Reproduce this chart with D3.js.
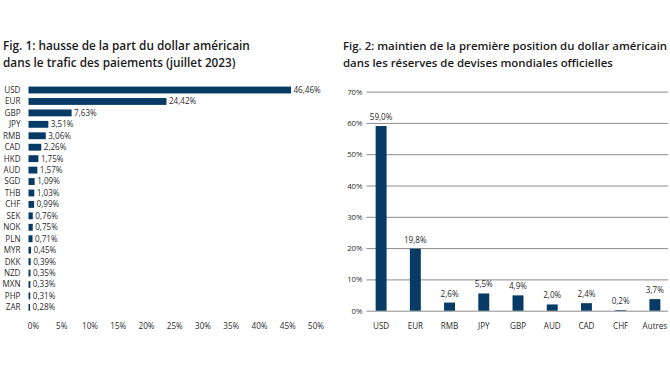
<!DOCTYPE html>
<html><head><meta charset="utf-8">
<script src="https://cdn.jsdelivr.net/npm/d3@7"></script>
<style>
html,body{margin:0;padding:0;background:#fff;}
svg{display:block;font-family:"Open Sans", Lato, sans-serif;}
</style></head>
<body>
<svg id="chart" width="670" height="377"></svg>
<script>
// Fig. 1 data
const payCurrencies = ["USD","EUR","GBP","JPY","RMB","CAD","HKD","AUD","SGD","THB","CHF","SEK","NOK","PLN","MYR","DKK","NZD","MXN","PHP","ZAR"];
const payShares = [46.46,24.42,7.63,3.51,3.06,2.26,1.75,1.57,1.09,1.03,0.99,0.76,0.75,0.71,0.45,0.39,0.35,0.33,0.31,0.28];
const payTicks = [0,5,10,15,20,25,30,35,40,45,50];
// Fig. 2 data
const resCurrencies = ["USD","EUR","RMB","JPY","GBP","AUD","CAD","CHF","Autres"];
const resShares = [59.0,19.8,2.6,5.5,4.9,2.0,2.4,0.2,3.7];
const resTicks = [0,10,20,30,40,50,60,70];

const navy = "#073b66";
const textCol = "#2b2b2b";
const font = "'Open Sans', sans-serif";
const lbl = 8.1;
const fmt = (v, d) => v.toFixed(d).replace(".", ",") + "%";

const svg = d3.select("#chart");

function title(g, x, size, lines) {
  lines.forEach((t, i) => g.append("text").attr("x", x).attr("y", 50 + i * 17)
    .attr("font-size", size).attr("font-weight", 600).attr("fill", "#1a1a1a")
    .attr("font-family", font).text(t));
}

// ---------- Fig 1 ----------
const g1 = svg.append("g");
title(g1, 3, 11.8, ["Fig. 1: hausse de la part du dollar américain", "dans le trafic des paiements (juillet 2023)"]);

const x1 = d3.scaleLinear().domain([0,50]).range([28.5,311]);
const y1 = d3.scaleBand().domain(payCurrencies).range([84.3,313.1]).paddingInner(0.4).paddingOuter(0.2);

g1.selectAll("rect.b").data(payCurrencies).join("rect")
  .attr("x", x1(0)).attr("y", d => y1(d))
  .attr("width", (d,i) => x1(payShares[i]) - x1(0))
  .attr("height", y1.bandwidth()).attr("fill", navy);

g1.selectAll("text.cat").data(payCurrencies).join("text")
  .attr("x", 20.5).attr("y", d => y1(d) + y1.bandwidth()/2).attr("dy","0.36em")
  .attr("text-anchor","end").attr("font-size",lbl).attr("fill",textCol).text(d => d);

g1.selectAll("text.val").data(payCurrencies).join("text")
  .attr("x", (d,i) => x1(payShares[i]) + 2.5).attr("y", d => y1(d) + y1.bandwidth()/2).attr("dy","0.36em")
  .attr("font-size",lbl).attr("fill",textCol).text((d,i) => fmt(payShares[i],2));

const ax1 = d3.axisBottom(x1).tickValues(payTicks).tickSize(0).tickPadding(0).tickFormat(d => d + "%");
const ax1g = g1.append("g").attr("transform","translate(4.5,323.3)").call(ax1);
ax1g.select(".domain").remove();
ax1g.selectAll("text").attr("font-size",lbl).attr("fill",textCol).attr("font-family",font);

// ---------- Fig 2 ----------
const g2 = svg.append("g");
title(g2, 343, 11.4, ["Fig. 2: maintien de la première position du dollar américain", "dans les réserves de devises mondiales officielles"]);

const y2 = d3.scaleLinear().domain([0,70]).range([310.7,91.6]);
const x2 = d3.scaleBand().domain(resCurrencies).range([364,672]).paddingInner(0.68).paddingOuter(0.34);

const ay2 = d3.axisLeft(y2).tickValues(resTicks).tickSize(-301.5).tickPadding(4).tickFormat(d => d + "%");
const ay2g = g2.append("g").attr("transform","translate(366.5,0)").call(ay2);
ay2g.select(".domain").remove();
ay2g.selectAll("line").attr("stroke","#8c8c8c").attr("stroke-width",1);
ay2g.selectAll("text").attr("font-size",7.8).attr("fill",textCol).attr("font-family",font);

g2.selectAll("rect.b").data(resCurrencies).join("rect")
  .attr("x", d => x2(d)).attr("y", (d,i) => y2(resShares[i]))
  .attr("width", x2.bandwidth()).attr("height", (d,i) => y2(0) - y2(resShares[i]))
  .attr("fill", navy);

g2.selectAll("text.val").data(resCurrencies).join("text")
  .attr("x", d => x2(d) + x2.bandwidth()/2).attr("y", (d,i) => y2(resShares[i]) - 6)
  .attr("text-anchor","middle").attr("font-size",lbl).attr("fill",textCol).text((d,i) => fmt(resShares[i],1));

const ax2 = d3.axisBottom(x2).tickSize(0).tickPadding(0);
const ax2g = g2.append("g").attr("transform","translate(0,323.3)").call(ax2);
ax2g.select(".domain").remove();
ax2g.selectAll("text").attr("font-size",lbl).attr("fill",textCol).attr("font-family",font);
</script>
</body></html>
